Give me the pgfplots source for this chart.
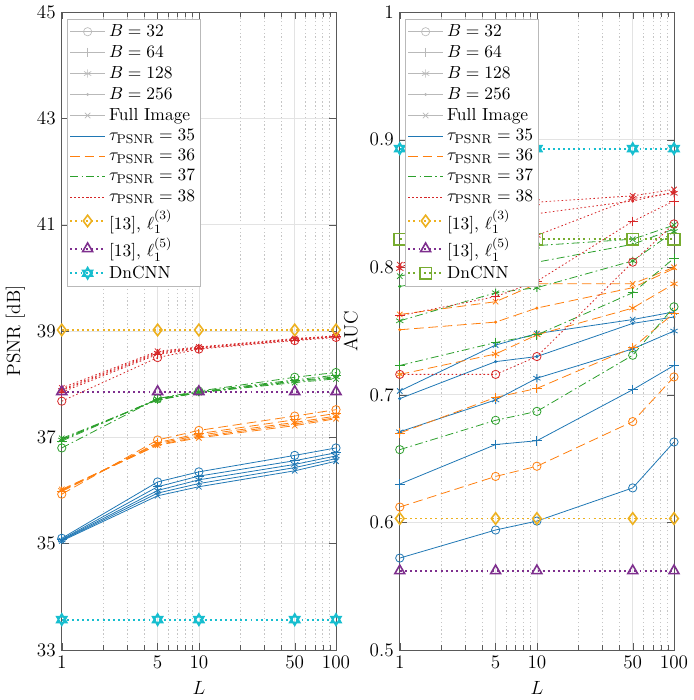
\documentclass[11pt,border=0pt]{standalone}
\usepackage{pgfplots}
\usepackage{pgfplotstable}
\pgfplotsset{compat=1.18}

\definecolor{cA}{HTML}{1F77B4}
\definecolor{cB}{HTML}{FF7F0E}
\definecolor{cC}{HTML}{2CA02C}
\definecolor{cD}{HTML}{D62728}
\definecolor{cY}{HTML}{EDB120}
\definecolor{cP}{HTML}{7E2F8E}
\definecolor{cT}{HTML}{17BECF}
\definecolor{cG}{HTML}{77AC30}

\pgfdeclareplotmark{hexagram}{%
  \pgfpathmoveto{\pgfqpointpolar{90}{\pgfplotmarksize}}%
  \pgfpathlineto{\pgfqpointpolar{210}{\pgfplotmarksize}}%
  \pgfpathlineto{\pgfqpointpolar{330}{\pgfplotmarksize}}%
  \pgfpathclose
  \pgfpathmoveto{\pgfqpointpolar{270}{\pgfplotmarksize}}%
  \pgfpathlineto{\pgfqpointpolar{30}{\pgfplotmarksize}}%
  \pgfpathlineto{\pgfqpointpolar{150}{\pgfplotmarksize}}%
  \pgfpathclose
  \pgfusepathqstroke}

% PSNR, one table per tau, columns = block size
\pgfplotstableread{
L c32 c64 c128 c256 cfull
1 35.10 35.08 35.07 35.06 35.05
5 36.16 36.07 36.00 35.95 35.90
10 36.35 36.27 36.20 36.13 36.07
50 36.66 36.56 36.49 36.43 36.37
100 36.80 36.71 36.65 36.60 36.55
}\psnrA
\pgfplotstableread{
L c32 c64 c128 c256 cfull
1 35.93 35.98 36.00 36.00 36.02
5 36.95 36.90 36.88 36.86 36.85
10 37.13 37.07 37.04 37.01 36.99
50 37.40 37.33 37.28 37.25 37.22
100 37.52 37.45 37.40 37.37 37.35
}\psnrB
\pgfplotstableread{
L c32 c64 c128 c256 cfull
1 36.80 36.93 36.95 36.96 36.98
5 37.73 37.72 37.72 37.71 37.70
10 37.87 37.86 37.85 37.84 37.84
50 38.13 38.08 38.06 38.05 38.03
100 38.22 38.17 38.14 38.12 38.10
}\psnrC
\pgfplotstableread{
L c32 c64 c128 c256 cfull
1 37.68 37.85 37.88 37.90 37.93
5 38.50 38.56 38.58 38.60 38.62
10 38.66 38.67 38.68 38.69 38.70
50 38.82 38.83 38.84 38.85 38.86
100 38.88 38.89 38.90 38.90 38.91
}\psnrD

% AUC
\pgfplotstableread{
L c32 c64 c128 c256 cfull
1 0.572 0.630 0.671 0.697 0.703
5 0.594 0.661 0.696 0.726 0.739
10 0.601 0.664 0.713 0.730 0.748
50 0.627 0.704 0.736 0.756 0.759
100 0.663 0.723 0.750 0.761 0.765
}\aucA
\pgfplotstableread{
L c32 c64 c128 c256 cfull
1 0.612 0.670 0.716 0.751 0.763
5 0.636 0.698 0.732 0.757 0.773
10 0.644 0.705 0.747 0.768 0.787
50 0.679 0.737 0.768 0.784 0.787
100 0.714 0.764 0.787 0.799 0.800
}\aucB
\pgfplotstableread{
L c32 c64 c128 c256 cfull
1 0.657 0.723 0.758 0.785 0.793
5 0.680 0.741 0.780 0.797 0.810
10 0.687 0.747 0.784 0.804 0.817
50 0.731 0.780 0.805 0.818 0.822
100 0.769 0.807 0.828 0.830 0.833
}\aucC
\pgfplotstableread{
L c32 c64 c128 c256 cfull
1 0.716 0.762 0.799 0.800 0.802
5 0.716 0.777 0.815 0.827 0.836
10 0.730 0.789 0.825 0.842 0.851
50 0.804 0.836 0.854 0.852 0.856
100 0.834 0.852 0.858 0.859 0.861
}\aucD

\tikzset{
  mkA/.style={mark=o, mark size=2.6pt},
  mkB/.style={mark=+, mark size=3pt},
  mkC/.style={mark=asterisk, mark size=2.6pt},
  mkD/.style={mark=*, mark size=0.7pt},
  mkE/.style={mark=x, mark size=2.4pt},
  tauA/.style={color=cA, solid, line width=0.5pt, mark options={solid}},
  tauB/.style={color=cB, dash pattern=on 6pt off 3pt, line width=0.5pt, mark options={solid}},
  tauC/.style={color=cC, dash pattern=on 5pt off 2pt on 1pt off 2pt, line width=0.5pt, mark options={solid}},
  tauD/.style={color=cD, dash pattern=on 1pt off 1.5pt, line width=0.5pt, mark options={solid}},
  refline/.style={line width=1.2pt, dash pattern=on 1.2pt off 2pt, mark size=3.6pt, mark options={solid, line width=1pt}},
}

\pgfplotsset{
  every axis/.append style={
    scale only axis, width=172pt, height=400pt,
    xmin=1, xmax=100,
    xtick={1,5,10,50,100}, xticklabels={1,5,10,50,100},
    minor xtick={2,3,4,6,7,8,9,20,30,40,60,70,80,90},
    xmajorgrids, ymajorgrids, xminorgrids,
    major grid style={gray!22, line width=0.4pt},
    minor grid style={gray!45, dash pattern=on 0.8pt off 1.6pt, line width=0.3pt},
    xtick pos=both, ytick pos=both, tick align=inside,
    axis line style={black!65}, tick style={black!65},
    tick label style={font=\large},
    label style={font=\large},
    xlabel={$L$},
    clip=false,
    legend cell align=left,
    legend style={at={(0.018,0.99)}, anchor=north west, draw=gray!55, fill=white,
      inner sep=1.5pt, row sep=0pt},
    legend image code/.code={\draw[mark repeat=2,mark phase=2]
      plot coordinates {(0cm,0cm)(0.38cm,0cm)(0.76cm,0cm)};},
  },
}

\newcommand{\fiveB}[2]{%
  \addplot[#2, mkA, forget plot] table[x=L,y=c32]{#1};
  \addplot[#2, mkB, forget plot] table[x=L,y=c64]{#1};
  \addplot[#2, mkC, forget plot] table[x=L,y=c128]{#1};
  \addplot[#2, mkD, forget plot] table[x=L,y=c256]{#1};
  \addplot[#2, mkE, forget plot] table[x=L,y=cfull]{#1};
}

\newcommand{\legendB}{%
  \addlegendimage{color=gray!55, solid, mkA}\addlegendentry{$B=32$}
  \addlegendimage{color=gray!55, solid, mkB}\addlegendentry{$B=64$}
  \addlegendimage{color=gray!55, solid, mkC}\addlegendentry{$B=128$}
  \addlegendimage{color=gray!55, solid, mkD}\addlegendentry{$B=256$}
  \addlegendimage{color=gray!55, solid, mkE}\addlegendentry{Full Image}
  \addlegendimage{tauA}\addlegendentry{$\tau_{\mathrm{PSNR}}=35$}
  \addlegendimage{tauB}\addlegendentry{$\tau_{\mathrm{PSNR}}=36$}
  \addlegendimage{tauC}\addlegendentry{$\tau_{\mathrm{PSNR}}=37$}
  \addlegendimage{tauD}\addlegendentry{$\tau_{\mathrm{PSNR}}=38$}
}

\begin{document}
\begin{tikzpicture}
\begin{semilogxaxis}[
  ymin=33, ymax=45, ytick={33,35,37,39,41,43,45},
  ylabel={PSNR [dB]}]
\fiveB{\psnrA}{tauA}
\fiveB{\psnrB}{tauB}
\fiveB{\psnrC}{tauC}
\fiveB{\psnrD}{tauD}
\legendB
\addplot[refline, color=cY, mark=diamond] coordinates {(1,39.02)(5,39.02)(10,39.02)(50,39.02)(100,39.02)};
\addlegendentry{[13], $\ell_1^{(3)}$}
\addplot[refline, color=cP, mark=triangle] coordinates {(1,37.86)(5,37.86)(10,37.86)(50,37.86)(100,37.86)};
\addlegendentry{[13], $\ell_1^{(5)}$}
\addplot[refline, color=cT, mark=hexagram] coordinates {(1,33.57)(5,33.57)(10,33.57)(50,33.57)(100,33.57)};
\addlegendentry{DnCNN}
\end{semilogxaxis}

\begin{semilogxaxis}[at={(212pt,0pt)},
  ymin=0.5, ymax=1, ytick={0.5,0.6,0.7,0.8,0.9,1},
  yticklabels={0.5,0.6,0.7,0.8,0.9,1},
  ylabel={AUC}]
\fiveB{\aucA}{tauA}
\fiveB{\aucB}{tauB}
\fiveB{\aucC}{tauC}
\fiveB{\aucD}{tauD}
\addplot[refline, color=cT, mark=hexagram, forget plot] coordinates {(1,0.893)(5,0.893)(10,0.893)(50,0.893)(100,0.893)};
\legendB
\addplot[refline, color=cY, mark=diamond] coordinates {(1,0.603)(5,0.603)(10,0.603)(50,0.603)(100,0.603)};
\addlegendentry{[13], $\ell_1^{(3)}$}
\addplot[refline, color=cP, mark=triangle] coordinates {(1,0.562)(5,0.562)(10,0.562)(50,0.562)(100,0.562)};
\addlegendentry{[13], $\ell_1^{(5)}$}
\addplot[refline, color=cG, mark=square] coordinates {(1,0.822)(5,0.822)(10,0.822)(50,0.822)(100,0.822)};
\addlegendentry{DnCNN}
\end{semilogxaxis}
\end{tikzpicture}
\end{document}
